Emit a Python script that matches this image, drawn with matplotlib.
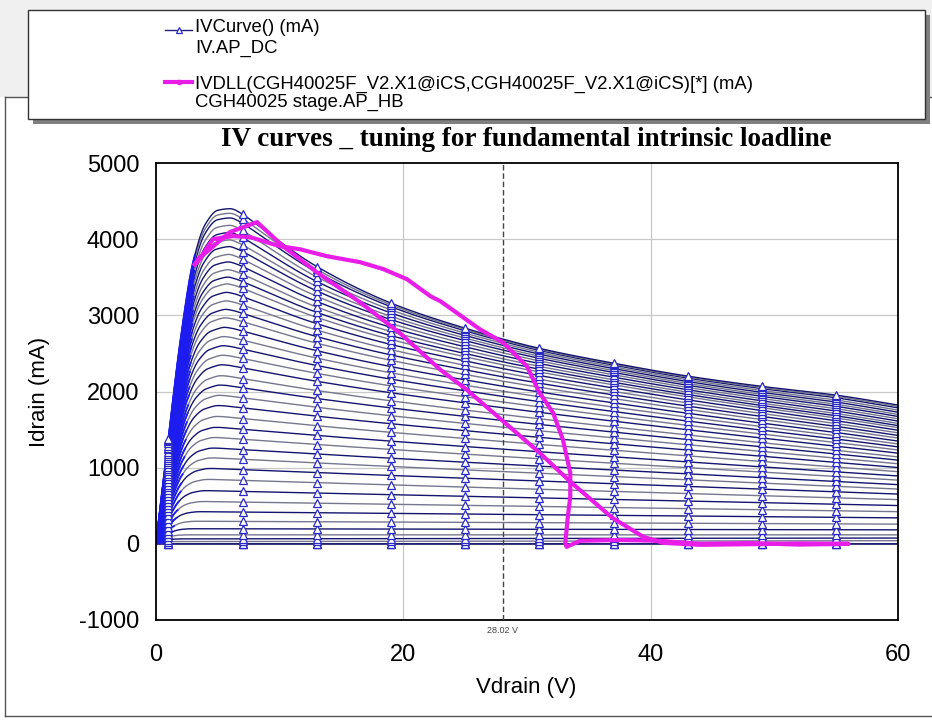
import numpy as np
import matplotlib
matplotlib.use("Agg")
import matplotlib.pyplot as plt
from matplotlib.patches import Rectangle
from matplotlib.lines import Line2D

plt.rcParams["axes.unicode_minus"] = False

# ---------------- data ----------------
vds_knots = [0, 1, 2, 3, 4, 5, 6, 7, 13, 19, 25, 31, 37, 43, 49, 55, 60]
top_curve_ma = [0, 1380, 2700, 3700, 4200, 4380, 4400, 4330, 3640, 3160,
                2830, 2565, 2370, 2200, 2065, 1950, 1820]

# drain current of every gate-voltage step at Vds = 7 V and Vds = 55 V
i_at_7v = [0, 0, 0, 31, 66, 118, 197, 294, 417, 548, 688, 833, 974, 1110,
           1237, 1373, 1504, 1645, 1785, 1917, 2049, 2170, 2311, 2434, 2557,
           2675, 2794, 2917, 3026, 3136, 3246, 3355, 3443, 3539, 3640, 3737,
           3838, 3925, 4022, 4114, 4210, 4270, 4330]
i_at_55v = [0, 0, 0, 40, 75, 118, 185, 262, 348, 434, 520, 604, 683, 755,
            819, 885, 946, 1009, 1070, 1126, 1180, 1228, 1283, 1330, 1376,
            1419, 1461, 1504, 1542, 1579, 1616, 1652, 1681, 1711, 1743, 1774,
            1805, 1832, 1861, 1888, 1917, 1935, 1952]

marker_v = [1, 7, 13, 19, 25, 31, 37, 43, 49, 55]

# dynamic load line (IVDLL)
loadline_v = [3.15, 3.4, 4.6, 6.2, 7.6, 10.0, 11.6, 13.8, 16.5, 18.4, 20.3,
              22.2, 23.0, 26.2, 28.05, 30.0, 31.0, 32.1, 32.9, 33.5, 33.5,
              33.3, 33.1, 33.2, 34.3, 37.5, 40.7, 44.0, 48.0, 52.0, 56.0,
              52.0, 48.0, 44.0, 41.0, 39.4, 36.9, 33.5, 31.0, 25.1, 22.96,
              19.7, 16.5, 13.0, 10.27, 8.17, 5.98, 3.4, 3.15]
loadline_i = [3670, 3710, 4000, 4040, 4027, 3908, 3869, 3777, 3698, 3606,
              3474, 3250, 3185, 2816, 2645, 2329, 1987, 1724, 1369, 934, 619,
              355, 13, -40, 40, 50, 40, 0, 10, -10, 0, 5, -5, -13, 13, 92,
              342, 816, 1198, 2027, 2290, 2770, 3171, 3566, 3908, 4224, 4093,
              3737, 3670]

marker_vds = 28.02
x_ticks = [0, 20, 40, 60]
y_ticks = [-1000, 0, 1000, 2000, 3000, 4000, 5000]


# ---------------- helpers ----------------
def pchip(x, y, xq):
    x = np.asarray(x, float); y = np.asarray(y, float); xq = np.asarray(xq, float)
    h = np.diff(x); d = np.diff(y) / h
    m = np.zeros_like(y)
    m[0] = d[0]; m[-1] = d[-1]
    for k in range(1, len(x) - 1):
        if d[k - 1] * d[k] > 0:
            w1 = 2 * h[k] + h[k - 1]; w2 = h[k] + 2 * h[k - 1]
            m[k] = (w1 + w2) / (w1 / d[k - 1] + w2 / d[k])
    idx = np.clip(np.searchsorted(x, xq) - 1, 0, len(x) - 2)
    t = (xq - x[idx]) / h[idx]
    h00 = 2 * t**3 - 3 * t**2 + 1; h10 = t**3 - 2 * t**2 + t
    h01 = -2 * t**3 + 3 * t**2; h11 = t**3 - t**2
    return h00 * y[idx] + h10 * h[idx] * m[idx] + h01 * y[idx + 1] + h11 * h[idx] * m[idx + 1]


vk = np.array(vds_knots, float)
tk = np.array(top_curve_ma, float)
k7 = vds_knots.index(7)
top7, top55 = tk[k7], tk[vds_knots.index(55)]

v = np.linspace(0, 60, 1201)
top = pchip(vk, tk, v)

# normalised droop shape of the top curve (1 at 7 V, 0 at 55 V)
Tk = (tk[k7:] - top55) / (top7 - top55)
T = np.where(v >= 7, pchip(vk[k7:], Tk, np.maximum(v, 7)),
             1 + (7 - v) * (1 - Tk[1]) / (vk[k7 + 1] - 7))
L = (55 - v) / 48.0
P_top = top55 + (top7 - top55) * T
G = np.where(v <= 7, top / P_top, 1.0)

i7max = max(i_at_7v)
curves, steep = [], []
for i7, i55 in zip(i_at_7v, i_at_55v):
    if i7 <= 0:
        curves.append(np.zeros_like(v)); steep.append(None)
        continue
    w = (i7 / i7max) ** 2
    S = w * T + (1 - w) * L
    P = i55 + (i7 - i55) * S
    s = (i7max / i7) ** 0.28
    Gk = np.interp(np.minimum(v * s, 7), v, G)
    curves.append(P * Gk)
    steep.append(np.interp(0.8, G[v <= 7], v[v <= 7]) / s)

# ---------------- figure ----------------
W, H = 932, 720
fig = plt.figure(figsize=(W / 100, H / 100), dpi=100)
fig.patch.set_facecolor("white")

def fx(px): return px / W
def fy(py): return 1 - py / H

# grey header band and window frame
fig.add_artist(Rectangle((0, fy(97)), 1, 1 - fy(97), transform=fig.transFigure,
                         facecolor="#f0f0f0", edgecolor="none", zorder=0))
fig.add_artist(Line2D([fx(5), 1], [fy(97), fy(97)], transform=fig.transFigure,
                      color="#555555", lw=1.0, zorder=1))
fig.add_artist(Line2D([fx(5), fx(5)], [fy(97), fy(716)], transform=fig.transFigure,
                      color="#555555", lw=1.0, zorder=1))
fig.add_artist(Line2D([fx(5), 1], [fy(716), fy(716)], transform=fig.transFigure,
                      color="#555555", lw=1.0, zorder=1))

ax = fig.add_axes([fx(156), fy(620), fx(898) - fx(156), fy(163) - fy(620)])
ax.set_xlim(0, 60)
ax.set_ylim(-1000, 5000)
ax.set_xticks(x_ticks)
ax.set_yticks(y_ticks)
ax.tick_params(length=0, labelsize=17, pad=12)
ax.tick_params(axis="x", pad=17)
for lab in ax.get_xticklabels() + ax.get_yticklabels():
    lab.set_fontfamily("Liberation Sans")
for sp in ax.spines.values():
    sp.set_color("black"); sp.set_linewidth(1.3)
for gx in [20, 40]:
    ax.axvline(gx, color="#c8c8c8", lw=0.9, zorder=0)
for gy in [0, 1000, 2000, 3000, 4000]:
    ax.axhline(gy, color="#c8c8c8", lw=0.9, zorder=0)

line_cols = ["#14146e", "#76768f"]
for n, c in enumerate(curves):
    col = line_cols[n % 2]
    ax.plot(v, c, color=col, lw=1.0, zorder=2)
    if steep[n] is not None:
        msk = v <= steep[n]
        ax.plot(v[msk], c[msk], color="#1c1cf0", lw=1.3, zorder=2.5)
    ax.plot(marker_v, np.interp(marker_v, v, c), ls="none", marker="^",
            ms=5.5, mfc="white", mec="#2a2ac8", mew=0.9, zorder=3)

ax.plot(loadline_v, loadline_i, color="#e81ee8", lw=3, zorder=5,
        solid_joinstyle="round")

ax.axvline(marker_vds, color="#444444", lw=1.0, ls=(0, (4, 2)), zorder=4)
ax.text(marker_vds, -1080, f"{marker_vds:.2f} V", ha="center", va="top",
        fontsize=6.5, color="#444444", family="Liberation Sans")

fig.text(fx(40), fy(392), "Idrain (mA)", rotation=90, ha="center", va="center",
         fontsize=16, family="Liberation Sans")
fig.text(fx(526), fy(688), "Vdrain (V)", ha="center", va="center",
         fontsize=16, family="Liberation Sans")
fig.text(fx(526), fy(140), "IV curves _ tuning for fundamental intrinsic loadline",
         ha="center", va="center", fontsize=19.5, fontweight="bold",
         family="Liberation Serif")

# legend box with shadow
fig.add_artist(Rectangle((fx(33), fy(124)), fx(925) - fx(28), fy(10) - fy(119),
                         transform=fig.transFigure, facecolor="#808080",
                         edgecolor="none", zorder=6))
fig.add_artist(Rectangle((fx(28), fy(119)), fx(925) - fx(28), fy(10) - fy(119),
                         transform=fig.transFigure, facecolor="white",
                         edgecolor="#333333", lw=1.0, zorder=7))
fig.add_artist(Line2D([fx(165), fx(192)], [fy(30), fy(30)], transform=fig.transFigure,
                      color="#20207a", lw=1.0, zorder=8))
fig.add_artist(Line2D([fx(178.5)], [fy(30)], transform=fig.transFigure, ls="none",
                      marker="^", ms=4, mfc="white", mec="#2a2ac8", mew=0.9, zorder=9))
fig.add_artist(Line2D([fx(165), fx(192)], [fy(82), fy(82)], transform=fig.transFigure,
                      color="#e81ee8", lw=3, zorder=8))
fig.add_artist(Line2D([fx(178.5)], [fy(82)], transform=fig.transFigure, ls="none",
                      marker="o", ms=3, color="#e81ee8", zorder=9))
leg_txt = [("IVCurve() (mA)", 28), ("IV.AP_DC", 48),
           ("IVDLL(CGH40025F_V2.X1@iCS,CGH40025F_V2.X1@iCS)[*] (mA)", 84),
           ("CGH40025 stage.AP_HB", 102)]
for t, yy in leg_txt:
    fig.text(fx(195), fy(yy), t, ha="left", va="center", fontsize=13.3,
             family="Liberation Sans", zorder=9)

fig.savefig("out.png", dpi=100)
